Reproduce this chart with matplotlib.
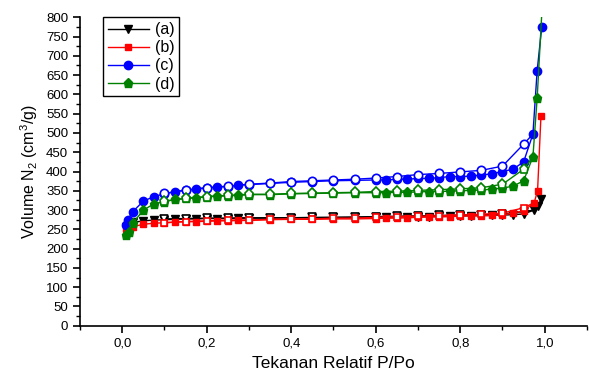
import matplotlib
matplotlib.use("Agg")
import matplotlib.pyplot as plt
from matplotlib.ticker import MultipleLocator, FuncFormatter

plt.rcParams['font.family'] = ['Liberation Sans', 'DejaVu Sans']
plt.rcParams['mathtext.fontset'] = 'custom'
plt.rcParams['mathtext.rm'] = 'Liberation Sans'
plt.rcParams['mathtext.it'] = 'Liberation Sans:italic'

# ---- data: adsorption (filled) and desorption (open) branches ----
p_ads_a = [0.01, 0.025, 0.05, 0.075, 0.1, 0.125, 0.15, 0.175, 0.2, 0.225, 0.25, 0.275, 0.3,
           0.35, 0.4, 0.45, 0.5, 0.55, 0.6, 0.625, 0.65, 0.675, 0.7, 0.725, 0.75, 0.775, 0.8,
           0.825, 0.85, 0.875, 0.9, 0.925, 0.95, 0.975, 0.983, 0.992]
v_ads_a = [257, 268, 272, 274, 275, 276, 277, 277, 278, 278, 278, 279, 279,
           279, 280, 280, 281, 281, 282, 282, 282, 283, 283, 283, 284, 284, 285,
           285, 286, 286, 287, 288, 290, 300, 311, 328]
p_des_a = [0.95, 0.9, 0.85, 0.8, 0.75, 0.7, 0.65, 0.6, 0.55, 0.5, 0.45, 0.4, 0.35, 0.3,
           0.25, 0.2, 0.15, 0.1]
v_des_a = [296, 290, 288, 287, 286, 285, 284, 283, 282, 281, 281, 280, 280, 280,
           279, 279, 278, 277]

p_ads_b = [0.01, 0.025, 0.05, 0.075, 0.1, 0.125, 0.15, 0.175, 0.2, 0.225, 0.25, 0.275, 0.3,
           0.35, 0.4, 0.45, 0.5, 0.55, 0.6, 0.625, 0.65, 0.675, 0.7, 0.725, 0.75, 0.775, 0.8,
           0.825, 0.85, 0.875, 0.9, 0.925, 0.95, 0.975, 0.983, 0.991]
v_ads_b = [250, 257, 263, 266, 267, 269, 270, 270, 271, 272, 272, 273, 273,
           275, 276, 276, 277, 277, 278, 279, 279, 280, 281, 282, 282, 283, 284,
           285, 285, 286, 288, 292, 298, 319, 350, 543]
p_des_b = [0.95, 0.9, 0.85, 0.8, 0.75, 0.7, 0.65, 0.6, 0.55, 0.5, 0.45, 0.4, 0.35, 0.3,
           0.25, 0.2, 0.15, 0.1]
v_des_b = [306, 292, 289, 287, 285, 284, 283, 281, 279, 279, 277, 277, 276, 274,
           274, 272, 270, 267]

p_ads_c = [0.008, 0.013, 0.025, 0.05, 0.075, 0.1, 0.125, 0.15, 0.175, 0.2, 0.225, 0.25, 0.275,
           0.3, 0.35, 0.4, 0.45, 0.5, 0.55, 0.6, 0.625, 0.65, 0.675, 0.7, 0.725, 0.75, 0.775,
           0.8, 0.825, 0.85, 0.875, 0.9, 0.925, 0.95, 0.972, 0.982, 0.993]
v_ads_c = [262, 275, 296, 323, 335, 342, 348, 351, 355, 357, 360, 361, 365,
           366, 369, 372, 374, 376, 377, 378, 378, 380, 380, 382, 382, 384, 387,
           387, 388, 391, 394, 400, 406, 425, 497, 661, 776]
p_des_c = [0.95, 0.9, 0.85, 0.8, 0.75, 0.7, 0.65, 0.6, 0.55, 0.5, 0.45, 0.4, 0.35, 0.3,
           0.25, 0.2, 0.15, 0.1]
v_des_c = [471, 414, 403, 399, 395, 392, 387, 383, 380, 378, 376, 374, 370, 367,
           362, 358, 352, 343]

p_ads_d = [0.01, 0.015, 0.025, 0.05, 0.075, 0.1, 0.125, 0.15, 0.175, 0.2, 0.225, 0.25, 0.275,
           0.3, 0.35, 0.4, 0.45, 0.5, 0.55, 0.6, 0.625, 0.65, 0.675, 0.7, 0.725, 0.75, 0.775,
           0.8, 0.825, 0.85, 0.875, 0.9, 0.925, 0.95, 0.972, 0.982, 0.995]
v_ads_d = [235, 243, 266, 300, 316, 322, 328, 330, 332, 334, 336, 337, 338,
           340, 340, 342, 343, 344, 345, 345, 345, 346, 346, 347, 348, 348, 349,
           350, 351, 352, 354, 357, 362, 376, 438, 590, 850]
p_des_d = [0.95, 0.9, 0.85, 0.8, 0.75, 0.7, 0.65, 0.6, 0.55, 0.5, 0.45, 0.4, 0.35, 0.3,
           0.25, 0.2, 0.15, 0.1]
v_des_d = [406, 367, 358, 355, 353, 351, 349, 348, 346, 345, 344, 343, 341, 341,
           338, 335, 330, 323]

labels = ['(a)', '(b)', '(c)', '(d)']
colors = ['black', '#ff0000', '#0000ff', '#008000']
markers = ['v', 's', 'o', 'p']
msizes = [6, 5, 6, 6.5]

series = [(p_ads_a, v_ads_a, p_des_a, v_des_a),
          (p_ads_b, v_ads_b, p_des_b, v_des_b),
          (p_ads_c, v_ads_c, p_des_c, v_des_c),
          (p_ads_d, v_ads_d, p_des_d, v_des_d)]

fig = plt.figure(figsize=(5.89, 3.83), dpi=100)
ax = fig.add_axes([0.1358, 0.1496, 0.8608, 0.8052])

for i, (pa, va, pd, vd) in enumerate(series):
    c = colors[i]
    # adsorption branch (filled)
    ax.plot(pa, va, color=c, lw=1.0, marker=markers[i], ms=msizes[i], mfc=c,
            mec=c, label=labels[i], zorder=2 + i * 2)
    # desorption branch (open), starting from the adsorption point near 0.975
    pdl = [pa[-3]] + pd
    vdl = [va[-3]] + vd
    ax.plot(pdl, vdl, color=c, lw=1.0, zorder=3 + i * 2)
    ax.plot(pd, vd, ls='none', marker=markers[i], ms=msizes[i], mfc='white',
            mec=c, mew=1.2, zorder=3 + i * 2)

ax.set_xlim(-0.1, 1.1)
ax.set_ylim(0, 800)

for s in ['top', 'right']:
    ax.spines[s].set_visible(False)
for s in ['left', 'bottom']:
    ax.spines[s].set_linewidth(1.2)

ax.xaxis.set_major_locator(MultipleLocator(0.2))
ax.xaxis.set_minor_locator(MultipleLocator(0.1))
ax.yaxis.set_major_locator(MultipleLocator(50))
ax.yaxis.set_minor_locator(MultipleLocator(25))

def xfmt(x, pos):
    if x < -1e-9 or x > 1.0 + 1e-9:
        return ''
    return f'{x:.1f}'.replace('.', ',')

ax.xaxis.set_major_formatter(FuncFormatter(xfmt))
ax.tick_params(which='major', direction='out', length=5, width=1.2, labelsize=9.5)
ax.tick_params(which='minor', direction='out', length=3, width=1.0)

ax.set_xlabel('Tekanan Relatif P/Po', fontsize=12.5, labelpad=5)
ax.set_ylabel('Volume N$_2$ (cm$^3$/g)', fontsize=11.5, labelpad=4)

leg = ax.legend(loc='upper left', bbox_to_anchor=(0.045, 1.0), borderaxespad=0,
                fontsize=11.5, handlelength=2.6, handletextpad=0.35, labelspacing=0.2,
                borderpad=0.3, fancybox=False, framealpha=1, edgecolor='black')
leg.get_frame().set_linewidth(1.0)

fig.savefig('out.png', dpi=100)
